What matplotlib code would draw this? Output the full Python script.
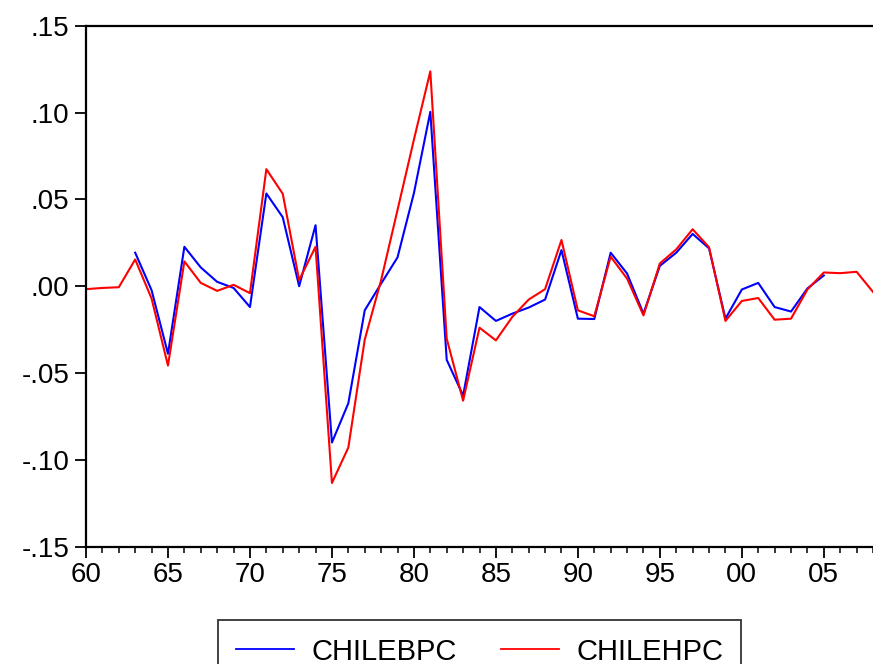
import numpy as np
import matplotlib
matplotlib.use('Agg')
import matplotlib.pyplot as plt

plt.rcParams['font.family'] = ['Liberation Sans', 'DejaVu Sans']

years = np.arange(1960, 2009)

# CHILEBPC: 1963-2005
bpc_years = np.arange(1963, 2006)
chilebpc = [0.0193, -0.0023, -0.0389, 0.0227, 0.0108, 0.0025, -0.0010, -0.0120,
            0.0534, 0.0397, 0.0000, 0.0351, -0.0900, -0.0674, -0.0139, 0.0015,
            0.0166, 0.0536, 0.1004, -0.0424, -0.0630, -0.0120, -0.0200, -0.0158,
            -0.0123, -0.0077, 0.0208, -0.0187, -0.0189, 0.0193, 0.0073, -0.0158,
            0.0117, 0.0193, 0.0301, 0.0218, -0.0187, -0.0019, 0.0019, -0.0120,
            -0.0146, -0.0013, 0.0062]

# CHILEHPC: 1960-2008
chilehpc = [-0.0017, -0.0010, -0.0006, 0.0154, -0.0071, -0.0457, 0.0143, 0.0019,
            -0.0027, 0.0008, -0.0040, 0.0674, 0.0532, 0.0035, 0.0227, -0.1133,
            -0.0929, -0.0308, 0.0035, 0.0439, 0.0844, 0.1237, -0.0302, -0.0659,
            -0.0239, -0.0312, -0.0177, -0.0077, -0.0017, 0.0266, -0.0139, -0.0173,
            0.0170, 0.0044, -0.0168, 0.0131, 0.0212, 0.0328, 0.0224, -0.0200,
            -0.0085, -0.0068, -0.0193, -0.0187, -0.0019, 0.0079, 0.0075, 0.0083,
            -0.0033]

xticks = np.arange(1960, 2006, 5)
xlabels = ['60', '65', '70', '75', '80', '85', '90', '95', '00', '05']
yticks = [0.15, 0.10, 0.05, 0.00, -0.05, -0.10, -0.15]
ylabels = ['.15', '.10', '.05', '.00', '-.05', '-.10', '-.15']

fig = plt.figure(figsize=(8.73, 6.64), dpi=100)
ax = fig.add_axes([86/873, 1 - 546.7/664, 1 - 86/873, 521/664])

ax.plot(bpc_years, chilebpc, color='#0000ff', lw=1.5, label='CHILEBPC')
ax.plot(years, chilehpc, color='#ff0000', lw=1.5, label='CHILEHPC')

ax.set_xlim(1960, 2008)
ax.set_ylim(-0.15, 0.15)
ax.set_xticks(xticks)
ax.set_xticklabels(xlabels)
ax.set_xticks(years, minor=True)
ax.set_yticks(yticks)
ax.set_yticklabels(ylabels)

ax.spines['right'].set_visible(False)
for s in ['left', 'bottom', 'top']:
    ax.spines[s].set_linewidth(1.6)
ax.tick_params(axis='x', which='major', direction='out', length=8, width=1.3,
               labelsize=20, pad=3)
ax.tick_params(axis='x', which='minor', direction='out', length=4.5, width=1.1)
ax.tick_params(axis='y', direction='out', length=8, width=1.3, labelsize=20, pad=4)

leg = ax.legend(loc='upper center', bbox_to_anchor=(0.5, -0.1407), ncol=2,
                fontsize=21, frameon=True, fancybox=False, edgecolor='black',
                handlelength=2.0, handletextpad=0.6, columnspacing=1.5,
                borderpad=0.6, borderaxespad=0)
leg.get_frame().set_linewidth(1.3)
for line in leg.get_lines():
    line.set_linewidth(1.3)

fig.savefig('out.png', dpi=100)
